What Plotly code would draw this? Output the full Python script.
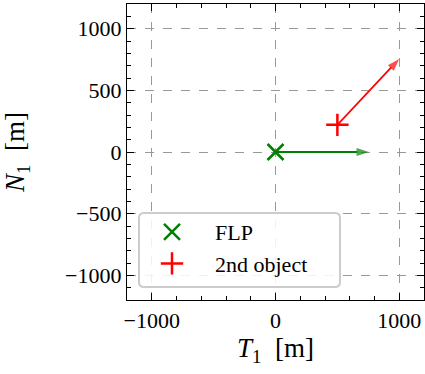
import plotly.graph_objects as go

# Positions [m] in the (T1, N1) frame
flp_pos = (0, 0)
obj_pos = (500, 220)
# Velocity-arrow end points [m]
flp_arrow_end = (755, 0)
obj_arrow_end = (1000, 755)

axis_range = [-1200, 1200]
x_ticks = [-1000, 0, 1000]
y_ticks = [-1000, -500, 0, 500, 1000]

FONT = "Liberation Serif, DejaVu Serif, serif"
W, H = 425, 374
M = dict(l=127, r=1, t=4, b=74)

fig = go.Figure()

# velocity arrows: shaft plus an arrow-head marker at the end point
for start, end, col, w, hs in [(flp_pos, flp_arrow_end, "green", 2.2, 13),
                               (obj_pos, obj_arrow_end, "red", 1.7, 13)]:
    fig.add_trace(go.Scatter(
        x=[start[0], end[0]], y=[start[1], end[1]], mode="lines+markers",
        line=dict(color=col, width=w),
        marker=dict(symbol=["circle", "arrow"], size=[0, hs], color=col,
                    angleref="previous", line=dict(width=0)),
        showlegend=False, hoverinfo="skip",
    ))

fig.add_trace(go.Scatter(
    x=[flp_pos[0]], y=[flp_pos[1]], mode="markers", name="FLP",
    marker=dict(symbol="x-thin-open", size=16, color="green",
                line=dict(width=2.5, color="green")),
))
fig.add_trace(go.Scatter(
    x=[obj_pos[0]], y=[obj_pos[1]], mode="markers", name="2nd object",
    marker=dict(symbol="cross-thin-open", size=16, color="red",
                line=dict(width=2.5, color="red")),
))

# rounded legend frame
pw = W - M["l"] - M["r"]
ph = H - M["t"] - M["b"]


def px(xp):
    return (xp - M["l"]) / pw


def py(yp):
    return (H - M["b"] - yp) / ph


x0, x1, y0, y1, r = 139, 340, 213, 287, 5
path = (
    f"M {px(x0 + r)},{py(y0)} L {px(x1 - r)},{py(y0)} "
    f"Q {px(x1)},{py(y0)} {px(x1)},{py(y0 + r)} "
    f"L {px(x1)},{py(y1 - r)} Q {px(x1)},{py(y1)} {px(x1 - r)},{py(y1)} "
    f"L {px(x0 + r)},{py(y1)} Q {px(x0)},{py(y1)} {px(x0)},{py(y1 - r)} "
    f"L {px(x0)},{py(y0 + r)} Q {px(x0)},{py(y0)} {px(x0 + r)},{py(y0)} Z"
)
fig.add_shape(type="path", path=path, xref="paper", yref="paper",
              fillcolor="rgba(255,255,255,0.85)",
              line=dict(color="#cccccc", width=2), layer="above")

axis_common = dict(
    range=axis_range, showline=True, linecolor="black", linewidth=1.3,
    mirror="ticks", ticks="inside", ticklen=7, tickwidth=1.1, tickcolor="black",
    showgrid=True, gridcolor="#999999", griddash="dash", gridwidth=1,
    zeroline=False, tickfont=dict(family=FONT, size=22, color="black"),
)

fig.update_layout(
    width=W, height=H, margin=M,
    plot_bgcolor="white", paper_bgcolor="white",
    font=dict(family=FONT, color="black"),
    xaxis=dict(**axis_common, tickvals=x_ticks,
               ticktext=[("\u2212" if v < 0 else "") + str(abs(v)) for v in x_ticks],
               minor=dict(dtick=200, tick0=0, ticks="inside", ticklen=4,
                          tickcolor="black", showgrid=False),
               title=dict(text="<i>T</i><sub>1</sub>\u00a0\u00a0[m]", standoff=6,
                          font=dict(family=FONT, size=27, color="black"))),
    yaxis=dict(**axis_common, tickvals=y_ticks,
               ticktext=[("\u2212" if v < 0 else "") + str(abs(v)) for v in y_ticks],
               minor=dict(dtick=100, tick0=0, ticks="inside", ticklen=4,
                          tickcolor="black", showgrid=False),
               title=dict(text="<i>N</i><sub>1</sub>\u00a0\u00a0[m]", standoff=34,
                          font=dict(family=FONT, size=27, color="black"))),
    legend=dict(x=px(129), y=py(211), xanchor="left", yanchor="top",
                bgcolor="rgba(0,0,0,0)", borderwidth=0, itemwidth=76,
                font=dict(family=FONT, size=22, color="black"),
                tracegroupgap=0),
    showlegend=True,
)

fig.write_html("out.html")
